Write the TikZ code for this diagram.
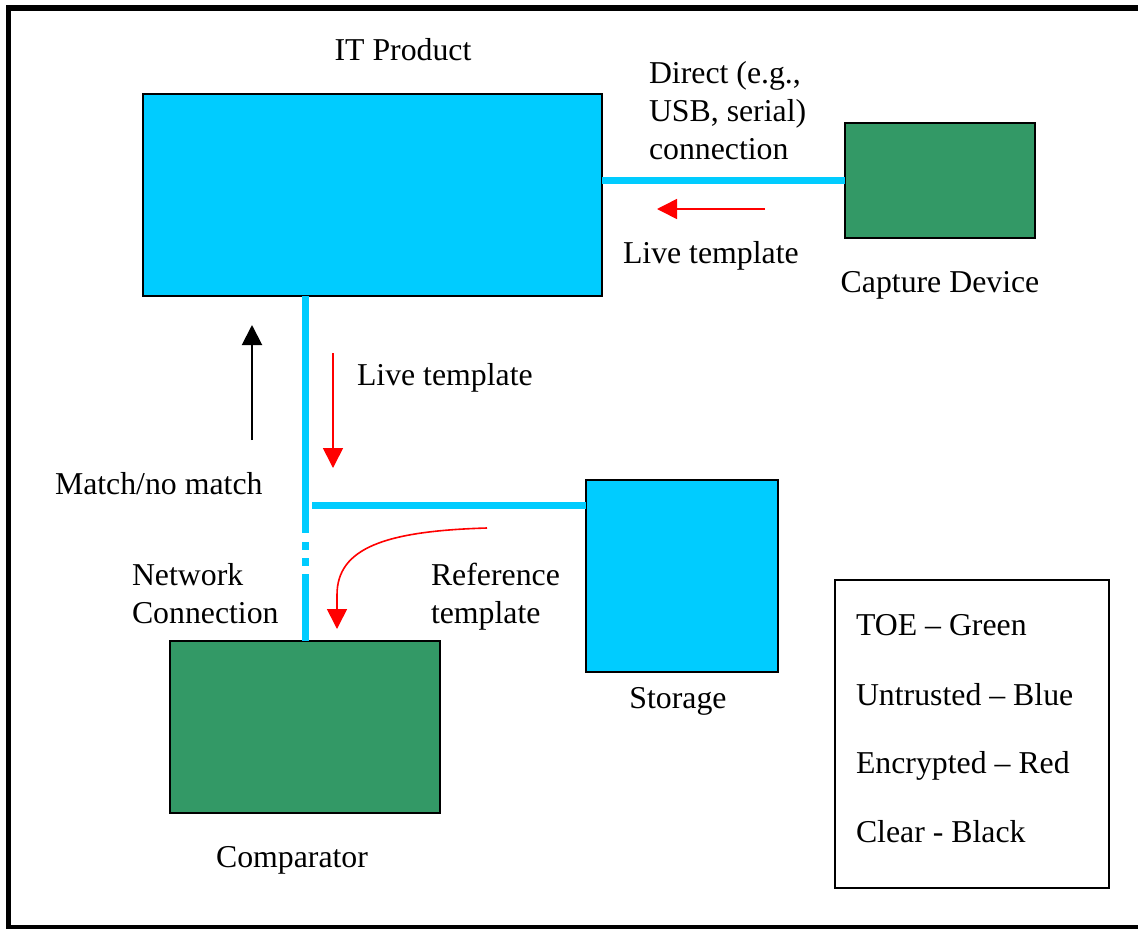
\documentclass[tikz,border=0pt]{standalone}
\usepackage{fontspec}
\setmainfont{Liberation Serif}
\usetikzlibrary{arrows.meta}
\definecolor{untrusted}{HTML}{00CCFF}
\definecolor{toe}{HTML}{339966}

\begin{document}
\begin{tikzpicture}[x=1pt,y=-1pt,
  box/.style={draw=black,line width=1.6pt,inner sep=0pt,outer sep=0pt,anchor=north west},
  lbl/.style={font=\fontsize{31.8}{38}\selectfont,inner sep=0pt,outer sep=0pt,align=left},
  link/.style={untrusted,line width=7pt},
  enc/.style={red,line width=1.6pt,-{Triangle[length=20pt,width=20pt]}},
  clr/.style={black,line width=2pt,-{Triangle[length=20pt,width=20pt]}}]

\useasboundingbox (0,0) rectangle (1138,929);
% outer frame
\draw[line width=5.5pt] (8.5,8) rectangle (1141,928);

% components
\node[box,fill=untrusted,minimum width=459pt,minimum height=202pt] (it) at (143,94) {};
\node[box,fill=toe,minimum width=190pt,minimum height=115pt] (cap) at (845,123) {};
\node[box,fill=untrusted,minimum width=192pt,minimum height=192pt] (st) at (586,480) {};
\node[box,fill=toe,minimum width=270pt,minimum height=172pt] (cmp) at (170,641) {};
\node[box,minimum width=274pt,minimum height=308pt] (leg) at (835,580) {};

% connections
\draw[link] (cap.west) -- (cap.west -| it.east);
\coordinate (vtop) at (305,296);
\coordinate (v1) at (305,533);
\coordinate (v2) at (305,542);
\coordinate (v3) at (305,550);
\coordinate (v4) at (305,558);
\coordinate (v5) at (305,566);
\coordinate (v6) at (305,574);
\draw[link] (vtop) -- (v1);
\draw[link] (v2) -- (v3);
\draw[link] (v4) -- (v5);
\draw[link] (v6) -- (v6 |- cmp.north);
\coordinate (hbranch) at (312,505);
\draw[link] (hbranch) -- (hbranch -| st.west);

% data-flow arrows
\coordinate (a1s) at (765,209);
\coordinate (a1e) at (657,209);
\draw[enc] (a1s) -- (a1e);
\coordinate (a2s) at (333,353);
\coordinate (a2e) at (333,468);
\draw[enc] (a2s) -- (a2e);
\coordinate (a3s) at (487,528);
\coordinate (a3m) at (337,595);
\coordinate (a3e) at (337,629);
\draw[enc] (a3s) .. controls (385,531) and (337,548) .. (a3m) -- (a3e);
\coordinate (a4s) at (252,440);
\coordinate (a4e) at (252,325);
\draw[clr] (a4s) -- (a4e);

% labels (base anchor of a multi-line label sits on its last line)
\node[lbl,anchor=base] (itl) at (403,60) {IT Product};
\node[lbl,anchor=base] (capl) at (940,292) {Capture Device};
\node[lbl,anchor=base] (stl) at (678,708) {Storage};
\node[lbl,anchor=base] (cmpl) at (292,867) {Comparator};
\node[lbl,anchor=base west] (direct) at (649,159) {Direct (e.g.,\\USB, serial)\\connection};
\node[lbl,anchor=base west] (live1) at (623,263) {Live template};
\node[lbl,anchor=base west] (live2) at (357,385) {Live template};
\node[lbl,anchor=base west] (match) at (55,494) {Match/no match};
\node[lbl,anchor=base west] (net) at (132,623) {Network\\Connection};
\node[lbl,anchor=base west] (ref) at (431,623) {Reference\\template};

% legend
\node[lbl,anchor=base west] (k1) at (856,635) {TOE – Green};
\node[lbl,anchor=base west] (k2) at (856,705) {Untrusted – Blue};
\node[lbl,anchor=base west] (k3) at (856,773) {Encrypted – Red};
\node[lbl,anchor=base west] (k4) at (856,842) {Clear - Black};
\end{tikzpicture}
\end{document}
